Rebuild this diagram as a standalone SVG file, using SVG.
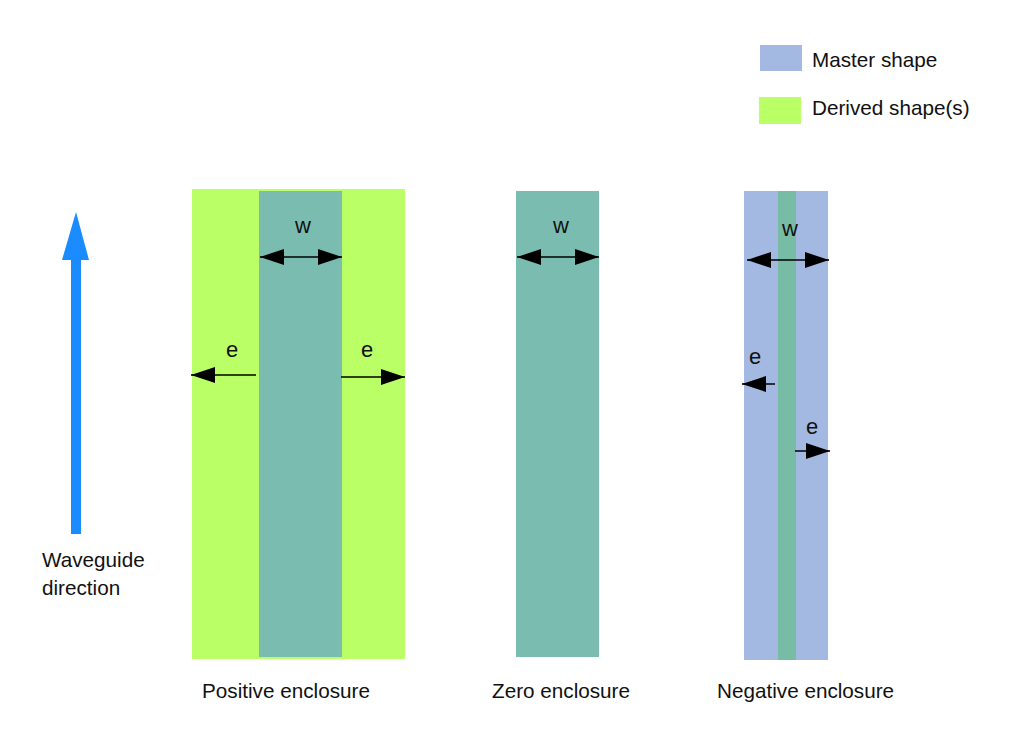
<svg xmlns="http://www.w3.org/2000/svg" width="1013" height="731" viewBox="0 0 1013 731">
<defs>
<marker id="ah" viewBox="0 0 24 16" refX="24" refY="8" markerWidth="24" markerHeight="16" markerUnits="userSpaceOnUse" orient="auto-start-reverse">
<path d="M0,0 L24,8 L0,16 Z" fill="#000"/>
</marker>
</defs>
<style>
text{font-family:"Liberation Sans",Arial,sans-serif;font-size:20.7px;fill:#111}
.lbl{font-size:22px;text-anchor:middle}
.green{fill:#bbff66}
.teal{fill:#7bbcb0}
.blue{fill:#a3b9e1}
.dim{stroke:#000;stroke-width:1.5;fill:none}
</style>
<rect width="1013" height="731" fill="#fff"/>
<g id="legend">
<rect class="blue" x="760" y="45" width="42" height="26"/>
<text x="812" y="67">Master shape</text>
<rect class="green" x="759" y="97" width="42" height="27"/>
<text x="812" y="115">Derived shape(s)</text>
</g>
<g id="waveguide-direction">
<rect x="71" y="258" width="10" height="276" fill="#1a8cff"/>
<path d="M76,212 L89,260 L62,260 Z" fill="#1a8cff"/>
<text x="42" y="567">Waveguide</text>
<text x="42" y="595">direction</text>
</g>
<g id="positive">
<rect class="green" x="192" y="189" width="213" height="470"/>
<rect class="teal" x="259" y="191" width="83" height="466"/>
<text class="lbl" x="303" y="233">w</text>
<text class="lbl" x="232" y="357">e</text>
<text class="lbl" x="367" y="357">e</text>
<text x="202" y="698">Positive enclosure</text>
</g>
<g id="zero">
<rect class="teal" x="516" y="191" width="83" height="466"/>
<text class="lbl" x="561" y="233">w</text>
<text x="492" y="698">Zero enclosure</text>
</g>
<g id="negative">
<rect class="blue" x="744" y="191" width="84" height="469"/>
<rect x="778" y="191" width="18" height="469" fill="#78bca6"/>
<text class="lbl" x="790" y="236">w</text>
<text class="lbl" x="755" y="364">e</text>
<text class="lbl" x="812" y="434">e</text>
<text x="717" y="698">Negative enclosure</text>
</g>
<g id="connectors">
<line class="dim" x1="260" y1="257" x2="342" y2="257" marker-start="url(#ah)" marker-end="url(#ah)"/>
<line class="dim" x1="256" y1="375" x2="191" y2="375" marker-end="url(#ah)"/>
<line class="dim" x1="341" y1="377" x2="405" y2="377" marker-end="url(#ah)"/>
<line class="dim" x1="517" y1="257" x2="599" y2="257" marker-start="url(#ah)" marker-end="url(#ah)"/>
<line class="dim" x1="747" y1="260" x2="829" y2="260" marker-start="url(#ah)" marker-end="url(#ah)"/>
<line class="dim" x1="775" y1="384" x2="742" y2="384" marker-end="url(#ah)"/>
<line class="dim" x1="795" y1="451" x2="830" y2="451" marker-end="url(#ah)"/>
</g>
</svg>
